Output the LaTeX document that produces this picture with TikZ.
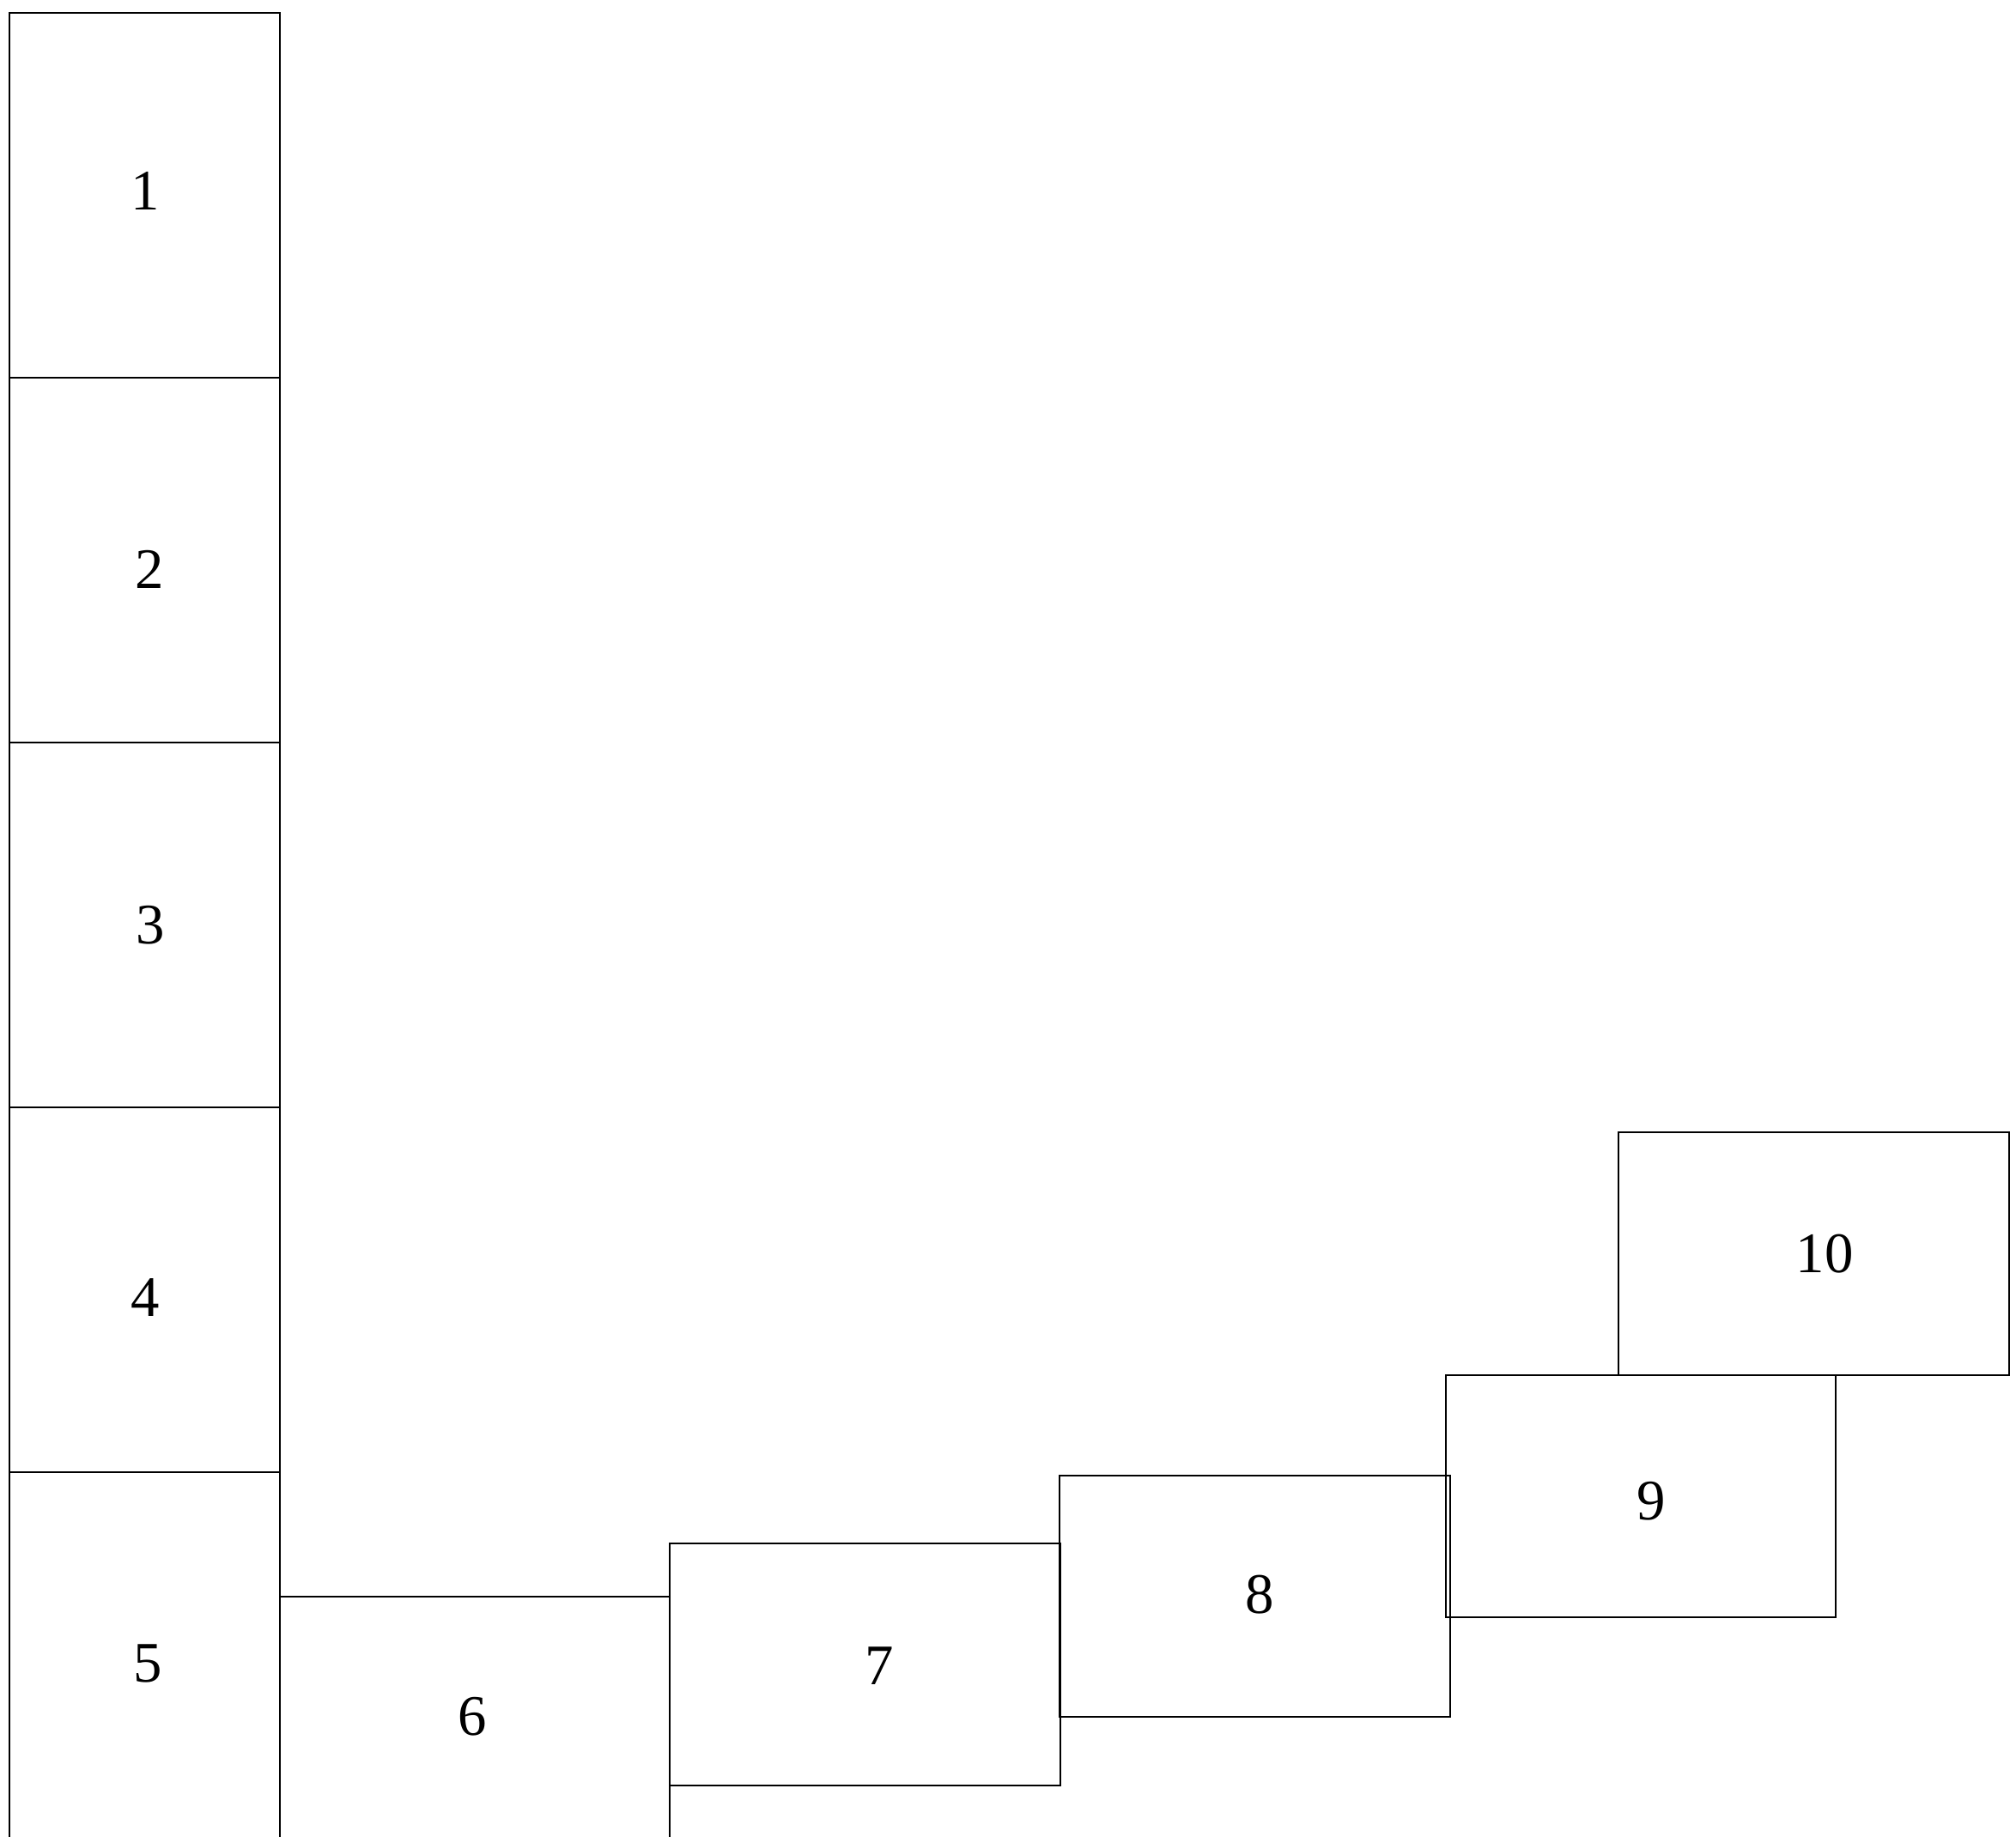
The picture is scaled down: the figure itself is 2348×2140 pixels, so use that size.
\documentclass[tikz,border=0pt]{standalone}
\usepackage{fontspec}
\setmainfont{Liberation Serif}
\tikzset{
  cell/.style={draw=black, line width=0.6pt},
  num/.style={font=\fontsize{19}{22}\selectfont, inner sep=0pt}
}
\begin{document}
\begin{tikzpicture}[x=0.01cm, y=-0.01cm]
  \useasboundingbox (0,0) rectangle (2348,2140);
  \clip (0,0) rectangle (2348,2140);

  % left column
  \foreach \i in {0,...,3}
    \draw[cell] (11, 15+425*\i) rectangle (326, 440+425*\i);
  \draw[cell] (11, 1715) rectangle (326, 2160);
  \node[num] (n1) at (169, 222) {1};
  \node[num] (n2) at (174, 663) {2};
  \node[num] (n3) at (175, 1078) {3};
  \node[num] (n4) at (169, 1512) {4};
  \node[num] (n5) at (172, 1938) {5};

  % rising steps
  \draw[cell] (326, 1860) rectangle (780, 2160);
  \draw[cell] (780, 1798) rectangle (1235, 2080);
  \draw[cell] (1234, 1719) rectangle (1689, 2000);
  \draw[cell] (1684, 1602) rectangle (2138, 1884);
  \draw[cell] (1885, 1319) rectangle (2340, 1602);
  \node[num] (n6) at (550, 2000) {6};
  \node[num] (n7) at (1024, 1941) {7};
  \node[num] (n8) at (1467, 1858) {8};
  \node[num] (n9) at (1923, 1749) {9};
  \node[num] (n10) at (2125, 1461) {10};
\end{tikzpicture}
\end{document}
